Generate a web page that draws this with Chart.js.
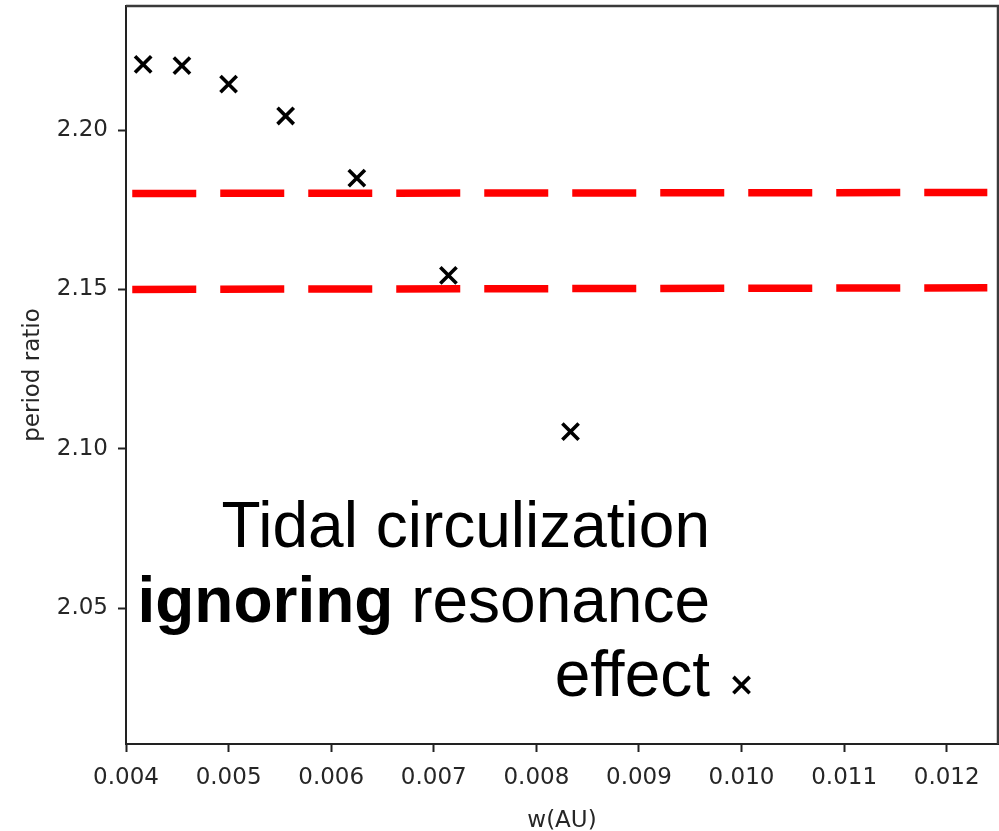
<!DOCTYPE html>
<html>
<head>
<meta charset="utf-8">
<script src="https://cdn.jsdelivr.net/npm/chart.js@4.4.1/dist/chart.umd.min.js"></script>
<style>
  html, body { margin: 0; padding: 0; background: #fff; }
  #wrap { width: 999px; height: 831px; }
</style>
</head>
<body>
<div id="wrap"><canvas id="ratioChart" width="999" height="831"></canvas></div>
<script>
// Simulated orbits: orbit width vs. final period ratio
const widths = [0.004167, 0.004545, 0.005, 0.005556, 0.00625, 0.007143, 0.008333, 0.010];
const periodRatios = [2.2206, 2.2202, 2.2144, 2.2044, 2.1849, 2.1544, 2.1054, 2.0259];

// Reference band edges (red dashed)
const bandX = [0.004061, 0.012396];
const upperBand = [2.1801, 2.1804];
const lowerBand = [2.1500, 2.1505];

// Axis ticks
const xTicks = [0.004, 0.005, 0.006, 0.007, 0.008, 0.009, 0.010, 0.011, 0.012];
const yTicks = [2.05, 2.10, 2.15, 2.20];

// Annotation text, one entry per line
const noteLines = [
    [{ text: 'Tidal circulization', bold: false }],
    [{ text: 'ignoring', bold: true }, { text: ' resonance', bold: false }],
    [{ text: 'effect', bold: false }]
];

const tickFont = { family: 'DejaVu Sans', size: 23 };
const tickColor = '#262626';

const toPoints = (xs, ys) => xs.map((x, i) => ({ x: x, y: ys[i] }));

// Top and right frame lines
const framePlugin = {
    id: 'frame',
    afterDraw(chart) {
        const { ctx, chartArea: a } = chart;
        ctx.save();
        ctx.strokeStyle = '#3a3a3a';
        ctx.lineWidth = 2.5;
        ctx.beginPath();
        ctx.moveTo(a.left, a.top);
        ctx.lineTo(a.right, a.top);
        ctx.lineTo(a.right, a.bottom);
        ctx.stroke();
        ctx.restore();
    }
};

// Right-aligned text block inside the plot
const notePlugin = {
    id: 'note',
    afterDraw(chart) {
        const { ctx, chartArea: a } = chart;
        const rightX = a.left + 584;
        const firstBaseline = a.top + 541;
        const lineStep = 74.5;
        ctx.save();
        ctx.fillStyle = '#000';
        ctx.textBaseline = 'alphabetic';
        ctx.textAlign = 'left';
        noteLines.forEach((parts, row) => {
            const fonts = parts.map(p => (p.bold ? 'bold ' : '') + '64px "Liberation Sans", Arial, sans-serif');
            let total = 0;
            parts.forEach((p, i) => { ctx.font = fonts[i]; total += ctx.measureText(p.text).width; });
            let x = rightX - total;
            const y = firstBaseline + row * lineStep;
            parts.forEach((p, i) => {
                ctx.font = fonts[i];
                ctx.fillText(p.text, x, y);
                x += ctx.measureText(p.text).width;
            });
        });
        ctx.restore();
    }
};

const bandStyle = {
    showLine: true,
    borderColor: '#ff0000',
    borderWidth: 7.5,
    borderDash: [64, 24],
    borderCapStyle: 'butt',
    pointRadius: 0,
    fill: false
};

new Chart(document.getElementById('ratioChart'), {
    type: 'scatter',
    data: {
        datasets: [
            Object.assign({ label: 'upper', data: toPoints(bandX, upperBand) }, bandStyle),
            Object.assign({ label: 'lower', data: toPoints(bandX, lowerBand) }, bandStyle),
            {
                label: 'period ratio',
                data: toPoints(widths, periodRatios),
                pointStyle: 'crossRot',
                pointRadius: 11.5,
                pointBorderWidth: 3.6,
                borderColor: '#000',
                backgroundColor: '#000'
            }
        ]
    },
    options: {
        responsive: false,
        animation: false,
        layout: { autoPadding: false, padding: { top: 6, right: 1, left: 0, bottom: 0 } },
        plugins: {
            legend: { display: false },
            tooltip: { enabled: false }
        },
        scales: {
            x: {
                type: 'linear',
                min: 0.004,
                max: 0.0125,
                afterBuildTicks: s => { s.ticks = xTicks.map(v => ({ value: v })); },
                afterFit: s => {
                    s.height = 87;
                    s.paddingLeft = 0;
                    s.paddingRight = 0;
                },
                grid: { drawOnChartArea: false, drawTicks: true, tickLength: 8, tickWidth: 2, tickColor: '#222' },
                border: { display: true, color: '#222', width: 2 },
                ticks: {
                    font: tickFont,
                    color: tickColor,
                    padding: 12,
                    maxRotation: 0,
                    autoSkip: false,
                    callback: v => v.toFixed(3)
                },
                title: {
                    display: true,
                    text: 'w(AU)',
                    font: tickFont,
                    color: tickColor,
                    padding: { top: 0, bottom: -4 }
                }
            },
            y: {
                type: 'linear',
                min: 2.0074,
                max: 2.2389,
                afterBuildTicks: s => { s.ticks = yTicks.map(v => ({ value: v })); },
                afterFit: s => {
                    s.width = 126;
                    s.paddingTop = 0;
                    s.paddingBottom = 0;
                },
                grid: { drawOnChartArea: false, drawTicks: true, tickLength: 8, tickWidth: 2, tickColor: '#222' },
                border: { display: true, color: '#222', width: 2 },
                ticks: {
                    font: tickFont,
                    color: tickColor,
                    padding: 10,
                    autoSkip: false,
                    callback: v => v.toFixed(2)
                },
                title: {
                    display: true,
                    text: 'period ratio',
                    font: tickFont,
                    color: tickColor,
                    padding: { top: 19, bottom: 0 }
                }
            }
        }
    },
    plugins: [framePlugin, notePlugin]
});
</script>
</body>
</html>
